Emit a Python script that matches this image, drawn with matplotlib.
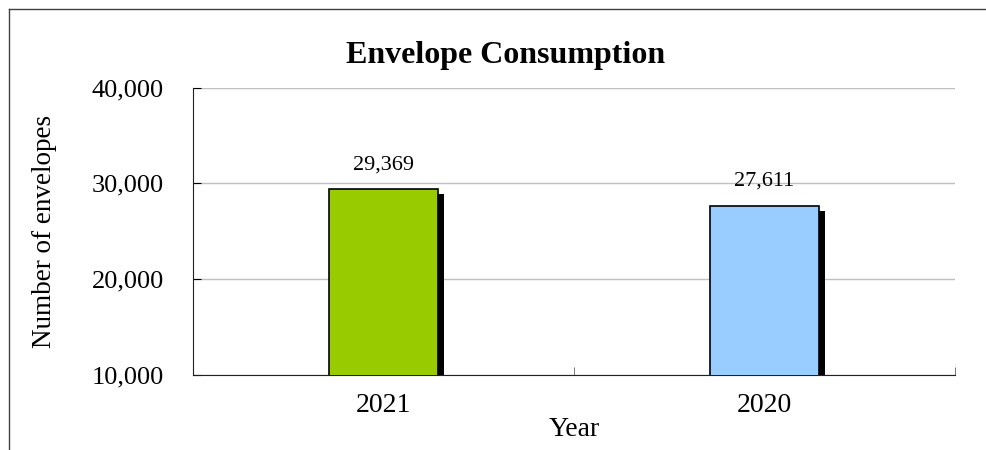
import numpy as np
import matplotlib
matplotlib.use("Agg")
import matplotlib.pyplot as plt
import matplotlib.patheffects as pe
from matplotlib.lines import Line2D
from matplotlib.ticker import FuncFormatter

years = ["2021", "2020"]
envelopes = [29369, 27611]
bar_colors = ["#99cc00", "#99ccff"]
y_ticks = [10000, 20000, 30000, 40000]

plt.rcParams['font.family'] = ['Liberation Serif', 'DejaVu Serif']

fig = plt.figure(figsize=(9.87, 4.5), dpi=100)
ax = fig.add_axes([193/987, 1-375/450, (955-193)/987, (375-87.5)/450])

x = np.arange(len(years))
bars = ax.bar(x, envelopes, width=0.285, color=bar_colors, edgecolor="black", linewidth=1.2, zorder=3)
for b in bars:
    b.set_path_effects([pe.SimplePatchShadow(offset=(4.3, -3.6), shadow_rgbFace="black", alpha=1), pe.Normal()])

ax.set_xlim(-0.5, 1.5)
ax.set_ylim(10000, 40000)
ax.set_yticks(y_ticks)
ax.yaxis.set_major_formatter(FuncFormatter(lambda v, p: f"{int(v):,}"))
ax.set_xticks(x)
ax.set_xticklabels(years)
ax.set_xticks([-0.5, 0.5, 1.5], minor=True)
ax.tick_params(axis="x", which="major", length=0, labelsize=20, pad=13)
ax.tick_params(axis="x", which="minor", direction="in", length=6, color="#606060")
ax.tick_params(axis="y", direction="in", length=6, labelsize=19, pad=21)
ax.grid(axis="y", color="#c0c0c0", linewidth=1, zorder=0)
ax.spines["top"].set_visible(False)
ax.spines["right"].set_visible(False)
ax.spines["left"].set_color("#202020")
ax.spines["bottom"].set_color("#202020")

for xi, v in zip(x, envelopes):
    ax.annotate(f"{v:,}", (xi, v), xytext=(0, 11), textcoords="offset points",
                ha="center", va="bottom", fontsize=16)

ax.set_xlabel("Year", fontsize=20, labelpad=-1)
ax.set_ylabel("Number of envelopes", fontsize=19.5, labelpad=25)
fig.text(506/987, 1-55/450, "Envelope Consumption", ha="center", va="center",
         fontsize=23, fontweight="bold")

# outer border (only top and left visible in the crop)
fig.add_artist(Line2D([9/987, 1], [1-9/450, 1-9/450], color="#404040", linewidth=1))
fig.add_artist(Line2D([9/987, 9/987], [0, 1-9/450], color="#404040", linewidth=1))

fig.savefig("out.png", dpi=100)
